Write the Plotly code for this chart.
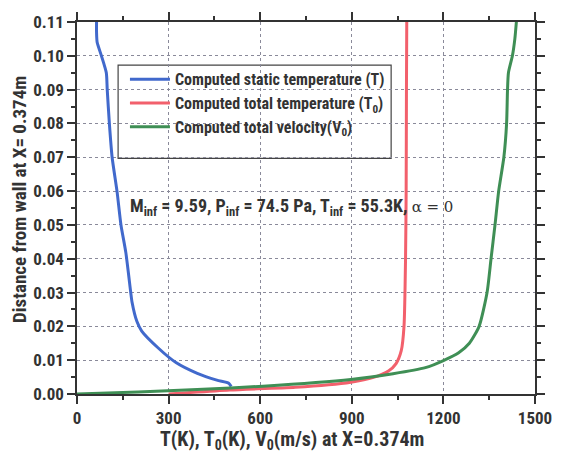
import plotly.graph_objects as go

# Static temperature T (K) vs distance (m)
t_static_x = [505, 503, 497, 458, 394, 324, 266, 212, 196, 180, 176, 160, 144, 131, 115, 106, 99, 96, 80, 66, 64, 64]
t_static_y = [0.0022, 0.0025, 0.0032, 0.0041, 0.0061, 0.0093, 0.0136, 0.0186, 0.0215, 0.0273, 0.030, 0.0418, 0.050, 0.060, 0.070, 0.080, 0.090, 0.095, 0.100, 0.104, 0.107, 0.110]

# Total temperature T0 (K)
t_total_x = [300, 500, 715, 897, 971, 1020, 1045, 1062, 1071, 1076, 1078, 1079, 1080]
t_total_y = [0.0, 0.0012, 0.0020, 0.0035, 0.0049, 0.0068, 0.0090, 0.0128, 0.020, 0.040, 0.060, 0.090, 0.110]

# Total velocity V0 (m/s)
v_total_x = [0, 200, 394, 609, 897, 1035, 1141, 1200, 1250, 1285, 1317, 1343, 1356, 1369, 1381, 1398, 1407, 1410, 1413, 1426, 1434, 1439]
v_total_y = [0.0, 0.0006, 0.0013, 0.0023, 0.0043, 0.0060, 0.0078, 0.0099, 0.0122, 0.015, 0.020, 0.030, 0.040, 0.050, 0.060, 0.070, 0.080, 0.090, 0.095, 0.100, 0.105, 0.110]

names = ["Computed static temperature (T)",
         "Computed total temperature (T<sub>0</sub>)",
         "Computed total velocity(V<sub>0</sub>)"]
colors = ["#4169cc", "#f2606c", "#3f8f55"]

FONT = "Liberation Sans Narrow, Roboto Condensed, Arial Narrow, Roboto, sans-serif"

fig = go.Figure()
for xs, ys, nm, c in [(t_static_x, t_static_y, names[0], colors[0]),
                      (t_total_x, t_total_y, names[1], colors[1]),
                      (v_total_x, v_total_y, names[2], colors[2])]:
    fig.add_trace(go.Scatter(x=xs, y=ys, mode="lines", name=nm,
                             line=dict(color=c, width=3, shape="spline", smoothing=0.6)))

axis_common = dict(
    showline=True, linecolor="#333", linewidth=1.5, mirror="allticks",
    ticks="outside", ticklen=8, tickwidth=1.5, tickcolor="#333",
    showgrid=True, gridcolor="#8a8a9a", griddash="dot", gridwidth=1,
    zeroline=False,
    tickfont=dict(family=FONT, size=17, color="#333", weight="bold"),
)

fig.update_xaxes(range=[0, 1500], dtick=300, tick0=0,
                 minor=dict(dtick=150, ticklen=4, tickwidth=1.5, tickcolor="#333", ticks="outside", showgrid=False),
                 **axis_common)
fig.update_yaxes(range=[0, 0.11], dtick=0.01, tick0=0, tickformat=".2f",
                 minor=dict(dtick=0.005, ticklen=4, tickwidth=1.5, tickcolor="#333", ticks="outside", showgrid=False),
                 **axis_common)

L, R, T, B = 77, 19, 15, 58
W, H = 564, 452
pw, ph = W - L - R, H - T - B

def px(xp):
    return (xp - L) / pw

def py(yp):
    return (H - B - yp) / ph

fig.update_layout(
    width=W, height=H,
    margin=dict(l=L, r=R, t=T, b=B),
    paper_bgcolor="white", plot_bgcolor="white",
    showlegend=True,
    legend=dict(x=px(126), y=py(56), xanchor="left", yanchor="top",
                bgcolor="rgba(0,0,0,0)", borderwidth=0, itemwidth=40,
                font=dict(family=FONT, size=16, color="#333", weight="bold"),
                tracegroupgap=4),
    shapes=[dict(type="rect", xref="paper", yref="paper",
                 x0=px(119), x1=px(398), y0=py(154), y1=py(59),
                 line=dict(color="#444", width=1.2), fillcolor="white", layer="below")],
    annotations=[
        dict(text="M<sub>inf</sub> = 9.59, P<sub>inf</sub> = 74.5 Pa, T<sub>inf</sub> = 55.3K, "
                  "<span style='font-family:DejaVu Serif, serif;font-weight:normal;font-size:15px'>α = 0</span>",
             xref="paper", yref="paper", x=px(129), y=py(203), xanchor="left", yanchor="middle",
             showarrow=False, font=dict(family=FONT, size=18, color="#333", weight="bold")),
        dict(text="T(K), T<sub>0</sub>(K), V<sub>0</sub>(m/s) at X=0.374m",
             xref="paper", yref="paper", x=px(297), y=py(441), xanchor="center", yanchor="middle",
             showarrow=False, font=dict(family=FONT, size=20, color="#333", weight="bold")),
        dict(text="Distance from wall at X= 0.374m", textangle=-90,
             xref="paper", yref="paper", x=px(18), y=py(196), xanchor="center", yanchor="middle",
             showarrow=False, font=dict(family=FONT, size=19, color="#333", weight="bold")),
    ],
)

fig.write_html("out.html")
